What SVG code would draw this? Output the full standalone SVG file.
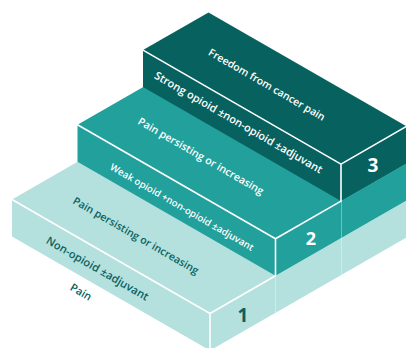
<svg xmlns="http://www.w3.org/2000/svg" width="406" height="348" viewBox="0 0 406 348">
<defs>
<style>
.d{fill:#07625f}
.m{fill:#22a09c}
.l{fill:#b4e0dd}
.edge{stroke:#ffffff;stroke-width:1.6;fill:none;stroke-linecap:round}
.faint{stroke:#ffffff;stroke-opacity:0.35;stroke-width:1;fill:none}
.t{font-family:"Open Sans","Noto Sans","DejaVu Sans",sans-serif;font-weight:600;text-anchor:middle}
.w{fill:#ffffff}
.k{fill:#08625f}
.num{font-family:"Open Sans","Noto Sans","DejaVu Sans",sans-serif;font-weight:700;text-anchor:middle}
</style>
</defs>
<rect width="406" height="348" fill="#ffffff"/>
<g id="step1">
<polygon class="l" points="12,199.5 208.5,86.4 406.5,200.4 210,313.5"/>
<polygon class="l" points="12,199.5 210,313.5 210,350.5 12,236.5"/>
<polygon class="l" points="210,313.5 406.5,200.4 406.5,237.4 210,350.5"/>
</g>
<g id="step2">
<polygon class="m" points="77.5,124.8 208.5,49.4 406.5,163.4 275.5,238.8"/>
<polygon class="m" points="77.5,124.8 275.5,238.8 275.5,275.8 77.5,161.8"/>
<polygon class="m" points="275.5,238.8 406.5,163.4 406.5,200.4 275.5,275.8"/>
</g>
<g id="step3">
<polygon class="d" points="143,50.1 208.5,12.4 406.5,126.4 341,164.1"/>
<polygon class="d" points="143,50.1 341,164.1 341,201.1 143,87.1"/>
<polygon class="d" points="341,164.1 406.5,126.4 406.5,163.4 341,201.1"/>
</g>
<g id="connectors">
<path class="faint" d="M341.5,201.1 V275.8 M275.5,275.8 V312.8"/>
<path class="edge" d="M12,199.5 L210,313.5 V350 M210,313.5 L275.5,275.8"/>
<path class="edge" d="M77.5,124.8 L275.5,238.8 V275.8 M275.5,238.8 L341,201.1"/>
<path class="edge" d="M143,50.1 L341,164.1 V201.1 M341,164.1 L406.5,126.4"/>
</g>
<g id="labels">
<text class="t w" font-size="10.4" transform="translate(267,84.5) rotate(30)" y="3.8">Freedom from cancer pain</text>
<text class="t w" font-size="10.9" transform="translate(238.5,122.5) rotate(30)" y="3.8">Strong opioid ±non-opioid ±adjuvant</text>
<text class="t w" font-size="10.5" transform="translate(201,156) rotate(30)" y="3.8">Pain persisting or increasing</text>
<text class="t w" font-size="9.6" transform="translate(182,207) rotate(30)" y="3.5">Weak opioid +non-opioid ±adjuvant</text>
<text class="t k" font-size="10.5" transform="translate(136,235.5) rotate(30)" y="3.8">Pain persisting or increasing</text>
<text class="t k" font-size="11.1" transform="translate(97.5,268.5) rotate(30)" y="3.9">Non-opioid ±adjuvant</text>
<text class="t k" font-size="10.8" transform="translate(81,292) rotate(30)" y="3.8">Pain</text>
<text class="num w" font-size="19" x="373" y="172">3</text>
<text class="num w" font-size="18" x="311" y="245">2</text>
<text class="num k" font-size="19" x="243" y="322">1</text>
</g>
</svg>
